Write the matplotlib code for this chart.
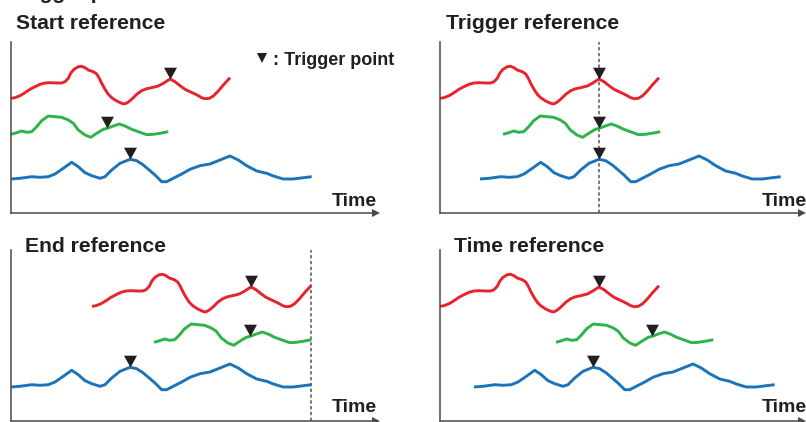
import matplotlib
matplotlib.use("Agg")
import matplotlib.pyplot as plt
from matplotlib.path import Path
import numpy as np

plt.rcParams['font.family'] = ['Liberation Sans', 'DejaVu Sans']

# ---- waveform shapes (t = time from waveform start, h = level above time axis) ----
red_t = [0, 4, 9, 14, 19, 24, 29, 34, 39, 45.7, 50.7, 54, 57.3, 59.7, 63, 67.3, 70.7, 74, 77.3, 82.3,
         85.7, 88.3, 90.7, 94, 97.3, 100.7, 105.7, 110.7, 113.3, 116.3, 120.7, 125.7, 130.7, 135.7,
         142.3, 147.3, 152.3, 159, 164, 169, 174, 179, 184, 187.3, 190.7, 194, 198.3, 202.3, 207.3,
         212.3, 219]
red_h = [114.7, 115.3, 117.3, 120.3, 123.7, 126.3, 128.7, 130, 130.3, 130, 130, 131.3, 134.7, 139.7,
         143.7, 146.3, 146.7, 145.3, 143, 141.3, 139, 134.7, 129.7, 123.7, 118.7, 115.3, 112, 109.7,
         109, 110.3, 113.7, 118.7, 122.3, 124.3, 125.7, 127, 129.7, 134, 131.3, 127.3, 123.7, 121.3,
         119, 117.3, 115.3, 114.3, 114.7, 117, 122, 128, 135.3]
red_trig = 159

green_t = [0, 5.7, 10.7, 15.7, 20.7, 25.7, 30.7, 37.3, 44, 50.7, 57.3, 62.3, 67.3, 74, 79.7, 85.7,
           92.3, 96.3, 102.3, 108.3, 114, 120.7, 129, 135.7, 142.3, 149, 157.3]
green_h = [78.7, 80.3, 82, 80.7, 81.3, 86.3, 92.3, 97, 96.3, 95.7, 93, 89.7, 83, 78, 75.7, 79.7,
           83.7, 84.7, 87, 89, 87, 83.7, 80.7, 78.3, 78.7, 79.7, 81.3]
green_trig = 96.3

blue_t = [0, 9, 20.7, 29, 37.3, 44, 52.3, 60.7, 67.3, 74, 80.7, 89, 94, 100.7, 109, 119, 125.7,
          132.3, 139, 144, 150.7, 155.7, 162.3, 170.7, 179, 189, 199, 209, 219, 227.3, 235.7, 245.7,
          255.7, 262.3, 272.3, 282.3, 292.3, 300.7]
blue_h = [34, 34.7, 36.3, 35.7, 36.3, 39, 44.7, 50.7, 46.3, 40.3, 37.3, 34.7, 36.3, 43, 49.7, 53.7,
          52.3, 48, 42.3, 38, 31.3, 31.3, 34.7, 39, 43.7, 47.3, 49, 53, 57, 53, 47.3, 42, 39.7, 37,
          34, 34, 35.3, 36.3]
blue_trig = 119

# ---- panels ----
panel_titles = ["Start reference", "Trigger reference", "End reference", "Time reference"]
# start offsets of red, green, blue waveforms in each panel
red_start = [0, 0, 81, 0]
green_start = [0, 63, 143, 116]
blue_start = [0, 40, 0, 34]
# reference line position per panel (None = no line)
ref_line = [None, 159, 300, None]

W, H = 806, 422
fig = plt.figure(figsize=(W / 100, H / 100), dpi=100)

# panel geometry in pixels: (axis x, axis bottom y, right end of time axis)
geo = [(11, 213, 380), (440, 213, 806), (11, 421, 380), (440, 421, 806)]
panel_h = 171

RED, GREEN, BLUE = '#e8232b', '#2db34a', '#1b74bb'
AX_C = '#4a4a4a'
TXT_C = '#231f20'

apex = Path([(-0.55, 1.0), (0.55, 1.0), (0.0, 0.0), (-0.55, 1.0)],
            [Path.MOVETO, Path.LINETO, Path.LINETO, Path.CLOSEPOLY])


def interp(t, h, tq):
    return float(np.interp(tq, t, h))


for i in range(4):
    x0, yb, xend = geo[i]
    wid = xend - x0
    ax = fig.add_axes([x0 / W, (H - yb) / H, wid / W, panel_h / H])
    ax.set_xlim(0, wid)
    ax.set_ylim(0, panel_h)
    ax.patch.set_alpha(0)
    for s in ['top', 'right']:
        ax.spines[s].set_visible(False)
    for s in ['left', 'bottom']:
        ax.spines[s].set_color(AX_C)
        ax.spines[s].set_linewidth(1.1)
    ax.set_xticks([])
    ax.set_yticks([])
    ax.spines['bottom'].set_bounds(0, wid - 4)
    ax.plot([wid - 4], [0], marker='>', ms=6, color=AX_C, clip_on=False, mew=0)

    if ref_line[i] is not None:
        ax.plot([ref_line[i], ref_line[i]], [0, panel_h], color='#555555', lw=1.1,
                linestyle=(0, (2.2, 1.6)), clip_on=False)

    for t, h, st, trig, col in [(red_t, red_h, red_start[i], red_trig, RED),
                                (green_t, green_h, green_start[i], green_trig, GREEN),
                                (blue_t, blue_h, blue_start[i], blue_trig, BLUE)]:
        xs = np.array(t) + st
        ax.plot(xs, h, color=col, lw=2.1, solid_joinstyle='round', solid_capstyle='butt',
                clip_on=False)
        ax.plot([st + trig], [interp(t, h, trig)], marker=apex, ms=17, color='#231f20',
                mew=0, clip_on=False, zorder=5)

    if i == 0:
        ax.plot([251], [155.5], marker='v', ms=7.5, color='#231f20', mew=0, clip_on=False)

# ---- texts ----
def ftext(x, y, s, **kw):
    fig.text(x / W, 1 - y / H, s, **kw)

ftext(14, -1.5, "Trigger position", fontsize=15, fontweight='bold', color=TXT_C, va='baseline')
title_pos = [(16, 29), (446, 29), (25, 252), (454, 252)]
for (x, y), s in zip(title_pos, panel_titles):
    ftext(x, y, s, fontsize=15.2, fontweight='bold', color=TXT_C, va='baseline')

time_pos = [(377, 206), (807, 206), (377, 412), (807, 412)]
for x, y in time_pos:
    ftext(x, y, "Time", fontsize=14, fontweight='bold', color=TXT_C, va='baseline', ha='right')

ftext(273, 65, ": Trigger point", fontsize=13, fontweight='bold', color=TXT_C, va='baseline')

fig.savefig("out.png", dpi=100)
